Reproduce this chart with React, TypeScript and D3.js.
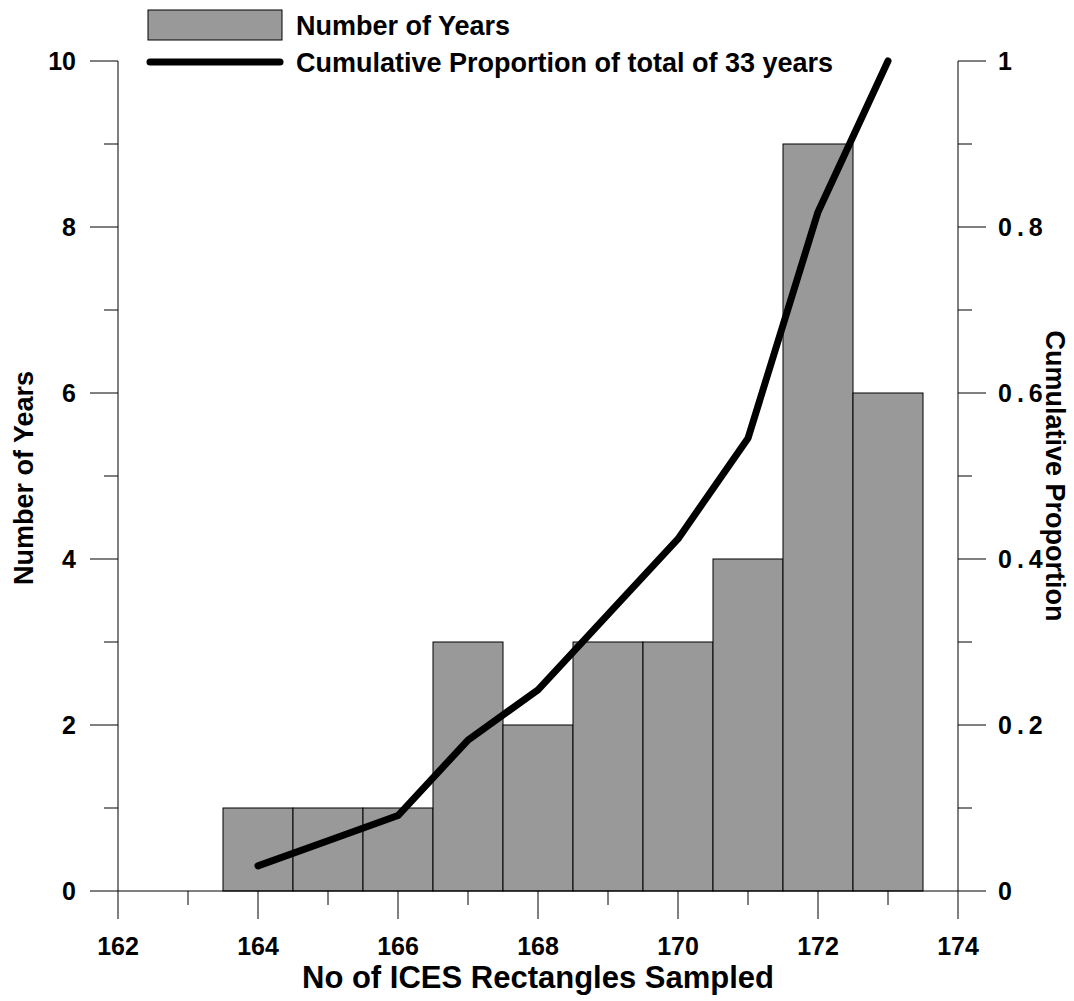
import React from "react";
import * as d3 from "d3";

// Histogram of years by number of ICES rectangles sampled
const rectangleCounts = [164, 165, 166, 167, 168, 169, 170, 171, 172, 173];
const yearsPerCount = [1, 1, 1, 3, 2, 3, 3, 4, 9, 6];
const totalYears = 33;

const xTicks = [162, 164, 166, 168, 170, 172, 174];
const xMinorTicks = [163, 165, 167, 169, 171, 173];
const leftTicks = [0, 2, 4, 6, 8, 10];
const leftMinorTicks = [1, 3, 5, 7, 9];
const rightTicks = [0, 0.2, 0.4, 0.6, 0.8, 1];
const rightMinorTicks = [0.1, 0.3, 0.5, 0.7, 0.9];

const FONT = "'Liberation Sans', Arial, Helvetica, sans-serif";

export default function App() {
  const width = 1074;
  const height = 1001;
  const left = 118;
  const right = 958;
  const top = 61;
  const bottom = 891;

  const x = d3.scaleLinear().domain([162, 174]).range([left, right]);
  const yL = d3.scaleLinear().domain([0, 10]).range([bottom, top]);
  const yR = d3.scaleLinear().domain([0, 1]).range([bottom, top]);

  // cumulative proportion for each bin
  const cumulative = d3.cumsum(yearsPerCount).map((c) => c / totalYears);
  const linePts: [number, number][] = rectangleCounts.map((c, i) => [c, cumulative[i]]);
  const lineGen = d3
    .line<[number, number]>()
    .x((d) => x(d[0]))
    .y((d) => yR(d[1]));

  const major = 28;
  const minor = 14;

  return (
    <svg
      width={width}
      height={height}
      style={{ position: "absolute", left: 0, top: 0, background: "#fff" }}
      fontFamily={FONT}
      fontWeight="bold"
    >
      {/* bars */}
      {rectangleCounts.map((c, i) => (
        <rect
          key={c}
          x={x(c - 0.5)}
          y={yL(yearsPerCount[i])}
          width={x(c + 0.5) - x(c - 0.5)}
          height={yL(0) - yL(yearsPerCount[i])}
          fill="#999999"
          stroke="#000"
          strokeWidth={1}
        />
      ))}

      {/* axes */}
      <g stroke="#000" strokeWidth={1} fill="none">
        <line x1={left} x2={left} y1={top} y2={bottom} />
        <line x1={right} x2={right} y1={top} y2={bottom} />
        <line x1={left} x2={right} y1={bottom} y2={bottom} />
        {xTicks.map((t) => (
          <line key={"xt" + t} x1={x(t)} x2={x(t)} y1={bottom} y2={bottom + major} />
        ))}
        {xMinorTicks.map((t) => (
          <line key={"xm" + t} x1={x(t)} x2={x(t)} y1={bottom} y2={bottom + minor} />
        ))}
        {leftTicks.map((t) => (
          <line key={"lt" + t} x1={left - major} x2={left} y1={yL(t)} y2={yL(t)} />
        ))}
        {leftMinorTicks.map((t) => (
          <line key={"lm" + t} x1={left - minor} x2={left} y1={yL(t)} y2={yL(t)} />
        ))}
        {rightTicks.map((t) => (
          <line key={"rt" + t} x1={right} x2={right + major} y1={yR(t)} y2={yR(t)} />
        ))}
        {rightMinorTicks.map((t) => (
          <line key={"rm" + t} x1={right} x2={right + minor} y1={yR(t)} y2={yR(t)} />
        ))}
      </g>

      {/* cumulative line */}
      <path
        d={lineGen(linePts) || ""}
        fill="none"
        stroke="#000"
        strokeWidth={7}
        strokeLinecap="round"
        strokeLinejoin="round"
      />

      {/* tick labels */}
      <g fontSize={25} fill="#000">
        {xTicks.map((t) => (
          <text key={"xl" + t} x={x(t)} y={955} textAnchor="middle">
            {t}
          </text>
        ))}
        {leftTicks.map((t) => (
          <text key={"ll" + t} x={76} y={yL(t)} dy="0.36em" textAnchor="end">
            {t}
          </text>
        ))}
        {rightTicks.map((t) => (
          <text
            key={"rl" + t}
            x={998}
            y={yR(t)}
            dy="0.36em"
            textAnchor="start"
            letterSpacing={t > 0 && t < 1 ? 5 : 0}
          >
            {d3.format("~g")(t)}
          </text>
        ))}
      </g>

      {/* axis titles */}
      <text x={(left + right) / 2} y={988} textAnchor="middle" fontSize={31}>
        No of ICES Rectangles Sampled
      </text>
      <text
        transform={`translate(33, ${(top + bottom) / 2 + 2}) rotate(-90)`}
        textAnchor="middle"
        fontSize={27}
      >
        Number of Years
      </text>
      <text
        transform={`translate(1046, ${(top + bottom) / 2}) rotate(90)`}
        textAnchor="middle"
        fontSize={27}
      >
        Cumulative Proportion
      </text>

      {/* legend */}
      <rect x={148} y={10} width={134} height={30} fill="#999999" stroke="#000" strokeWidth={1} />
      <text x={296} y={25} dy="0.36em" fontSize={27}>
        Number of Years
      </text>
      <line x1={150} x2={280} y1={62} y2={62} stroke="#000" strokeWidth={7} strokeLinecap="round" />
      <text x={296} y={62} dy="0.36em" fontSize={27}>
        Cumulative Proportion of total of 33 years
      </text>
    </svg>
  );
}
